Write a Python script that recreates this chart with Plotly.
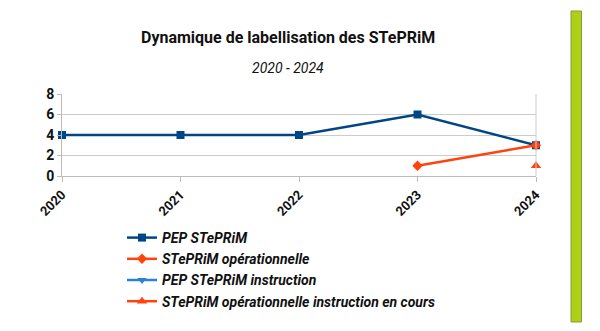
import plotly.graph_objects as go

years = [2020, 2021, 2022, 2023, 2024]
pep_steprim = [4, 4, 4, 6, 3]
steprim_oper = [None, None, None, 1, 3]
pep_instruction = [None, None, None, None, None]
steprim_oper_instr = [None, None, None, None, 1]

W, H = 600, 331
L, R, T, B = 62, 64, 94, 155
pw = W - L - R
ph = H - T - B

def px(x):
    return (x - L) / pw

def py(y):
    return (H - B - y) / ph

font = "Roboto"
fig = go.Figure()
fig.add_trace(go.Scatter(x=years, y=pep_steprim, name="<b><i>PEP STePRiM</i></b>", mode="lines+markers",
                         line=dict(color="#004586", width=2.5), cliponaxis=False,
                         marker=dict(symbol="square", size=8, color="#004586")))
fig.add_trace(go.Scatter(x=years, y=steprim_oper, name="<b><i>STePRiM opérationnelle</i></b>", mode="lines+markers",
                         line=dict(color="#ff420e", width=2.5), cliponaxis=False,
                         marker=dict(symbol="diamond", size=8, color="#ff420e")))
fig.add_trace(go.Scatter(x=years, y=pep_instruction, name="<b><i>PEP STePRiM instruction</i></b>", mode="lines+markers",
                         line=dict(color="#2a82d0", width=2.5), cliponaxis=False,
                         marker=dict(symbol="triangle-down", size=8, color="#2a82d0")))
fig.add_trace(go.Scatter(x=years, y=steprim_oper_instr,
                         name="<b><i>STePRiM opérationnelle instruction en cours</i></b>",
                         mode="lines+markers", cliponaxis=False,
                         line=dict(color="#ff420e", width=2.5),
                         marker=dict(symbol="triangle-up", size=9, color="#ff420e")))

fig.add_annotation(text="<b>Dynamique de labellisation des STePRiM</b>", xref="paper", yref="paper",
                   x=px(288), y=py(37), xanchor="center", yanchor="middle", showarrow=False,
                   font=dict(family=font, size=16, color="#111"))
fig.add_annotation(text="<i>2020 - 2024</i>", xref="paper", yref="paper",
                   x=px(288), y=py(68), xanchor="center", yanchor="middle", showarrow=False,
                   font=dict(family=font, size=14, color="#111"))

fig.add_shape(type="rect", xref="paper", yref="paper", x0=px(571), x1=px(581.5), y0=py(322), y1=py(11),
              fillcolor="#add016", line=dict(color="#8a9a40", width=1))

fig.update_layout(
    width=W, height=H, margin=dict(l=L, r=R, t=T, b=B),
    paper_bgcolor="white", plot_bgcolor="white",
    showlegend=True,
    legend=dict(x=px(122), y=py(222), xanchor="left", yanchor="top",
                font=dict(family=font, size=14, color="#111"), tracegroupgap=0,
                itemwidth=30, bgcolor="rgba(0,0,0,0)"),
    font=dict(family=font),
)
fig.update_xaxes(range=[2020, 2024], tickvals=years, ticktext=[f"<b>{y}</b>" for y in years],
                 tickangle=-45, showgrid=False, showline=True, linecolor="#bbbbbb", linewidth=1,
                 ticks="outside", ticklen=5, tickcolor="#bbbbbb", zeroline=False,
                 tickfont=dict(family=font, size=13, color="#111"), mirror=False)
fig.update_yaxes(range=[0, 8], tickvals=[0, 2, 4, 6, 8], ticktext=[f"<b>{v}</b>" for v in [0, 2, 4, 6, 8]],
                 showgrid=True, gridcolor="#cccccc", showline=True, linecolor="#bbbbbb", linewidth=1,
                 ticks="outside", ticklen=4, tickcolor="#bbbbbb", zeroline=False,
                 tickfont=dict(family=font, size=14, color="#111"))
fig.add_shape(type="line", xref="paper", yref="paper", x0=1, x1=1, y0=0, y1=1,
              line=dict(color="#cccccc", width=1))

fig.write_html("out.html")
